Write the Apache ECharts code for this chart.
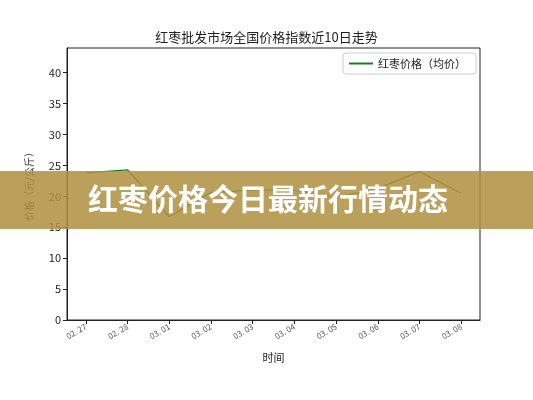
<!DOCTYPE html>
<html lang="zh">
<head>
<meta charset="UTF-8">
<title>红枣价格</title>
<script src="https://cdn.jsdelivr.net/npm/echarts@6/dist/echarts.min.js"></script>
<style>
  html, body { margin: 0; padding: 0; background: #fff; }
  #main { width: 533px; height: 400px; }
</style>
</head>
<body>
<div id="main"></div>
<script type="text/javascript">
// 日期（近10日）
var dates = ['02.27', '02.28', '03.01', '03.02', '03.03', '03.04', '03.05', '03.06', '03.07', '03.08'];
// 均价（元/公斤）
var prices = [23.8, 24.3, 16.7, 20.6, 21.0, 21.0, 19.8, 21.3, 24.0, 20.5];
var yTicks = [0, 5, 10, 15, 20, 25, 30, 35, 40];

var FONT = '"Noto Sans CJK SC", "DejaVu Sans", sans-serif';
var idx = dates.map(function (d, i) { return i; });
var points = prices.map(function (v, i) { return [i, v]; });

var myChart = echarts.init(document.getElementById('main'));
var option = {
    backgroundColor: '#fff',
    textStyle: { fontFamily: FONT },
    title: {
        text: '红枣批发市场全国价格指数近10日走势',
        left: 'center',
        top: 26,
        textStyle: { fontSize: 13, fontWeight: 'normal', color: '#222', fontFamily: FONT }
    },
    legend: {
        data: ['红枣价格（均价）'],
        right: 57,
        top: 53,
        icon: 'rect',
        itemWidth: 24,
        itemHeight: 2,
        itemGap: 10,
        padding: [5, 10, 5, 6],
        borderColor: '#ccc',
        borderWidth: 1,
        borderRadius: 3,
        textStyle: { fontSize: 11, color: '#222', fontFamily: FONT }
    },
    grid: { left: 67, right: 53, top: 48, bottom: 80, containLabel: false },
    xAxis: {
        type: 'value',
        min: -0.45,
        max: 9.45,
        name: '时间',
        nameLocation: 'middle',
        nameGap: 32,
        nameTextStyle: { fontSize: 11, color: '#222', fontFamily: FONT },
        axisLine: { onZero: false, lineStyle: { color: '#222', width: 1 } },
        axisTick: { show: true, inside: false, length: 4, customValues: idx, lineStyle: { color: '#222' } },
        axisLabel: {
            customValues: idx,
            rotate: 30,
            fontSize: 8,
            color: '#555',
            margin: 6,
            formatter: function (v) { return dates[Math.round(v)].replace('.', '. '); }
        },
        splitLine: { show: false }
    },
    yAxis: {
        type: 'value',
        min: 0,
        max: 44,
        name: '价格（元/公斤）',
        nameLocation: 'middle',
        nameGap: 33,
        nameRotate: 90,
        nameTextStyle: { fontSize: 10, color: '#333', fontFamily: FONT },
        axisLine: { show: true, onZero: false, lineStyle: { color: '#222', width: 1 } },
        axisTick: { show: true, length: 4, customValues: yTicks, lineStyle: { color: '#222' } },
        axisLabel: { customValues: yTicks, fontSize: 11, color: '#222', margin: 6 },
        splitLine: { show: false }
    },
    series: [{
        name: '红枣价格（均价）',
        type: 'line',
        data: points,
        symbol: 'none',
        lineStyle: { color: '#1d7a1d', width: 1.3 },
        itemStyle: { color: '#1d7a1d' },
        z: 2
    }],
    graphic: [
        // 图框（上、右边线）
        {
            type: 'rect',
            shape: { x: 67, y: 48, width: 413, height: 272 },
            style: { fill: null, stroke: '#222', lineWidth: 1 },
            silent: true,
            z: 1
        },
        // 横幅
        {
            type: 'rect',
            shape: { x: 0, y: 171, width: 533, height: 58 },
            style: { fill: 'rgba(176,144,64,0.86)' },
            silent: true,
            z: 100
        },
        {
            type: 'text',
            left: 88,
            top: 184,
            style: {
                text: '红枣价格今日最新行情动态',
                fill: '#fff',
                font: 'bold 30px "Noto Sans CJK SC", sans-serif'
            },
            silent: true,
            z: 101
        }
    ]
};
myChart.setOption(option);
</script>
</body>
</html>
